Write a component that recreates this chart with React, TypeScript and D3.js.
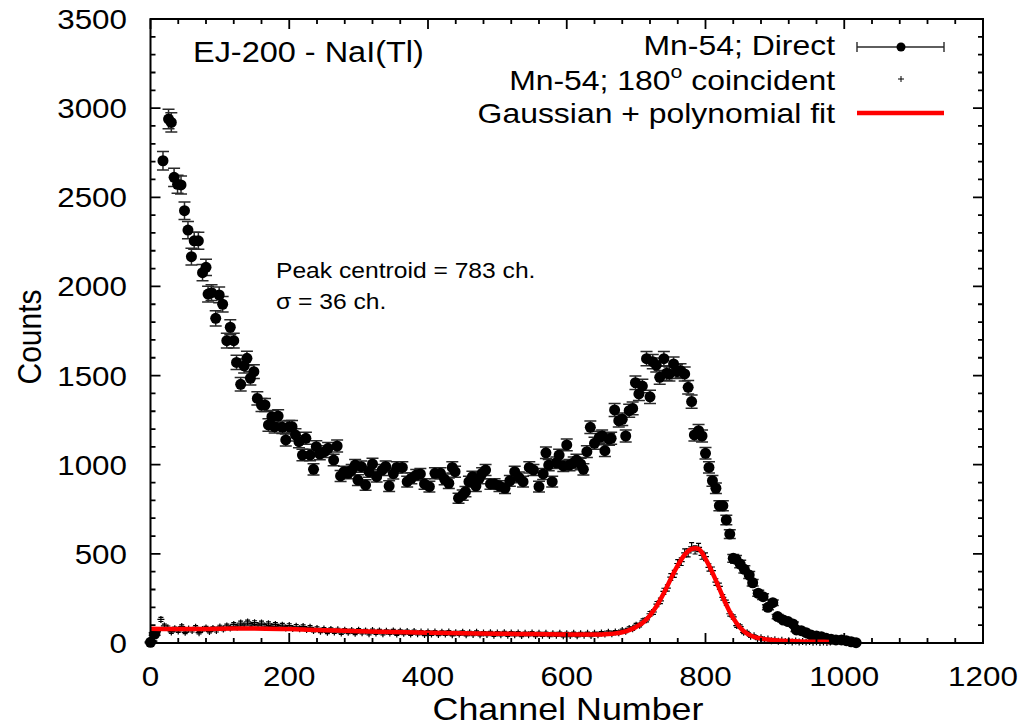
import React from "react";
import * as d3 from "d3";

// ---------- DATA ----------
// Mn-54; Direct  [channel, counts]
const directData: [number, number][] = [
  [0, 4], [6, 50], [18, 2705], [26, 2939], [30, 2920], [34, 2612], [39, 2573], [44, 2569], [49, 2425], [54, 2316],
  [59, 2167], [63, 2256], [69, 2256], [75, 2077], [80, 2107], [83, 1957], [88, 1965], [94, 1821], [99, 1952], [104, 1900],
  [110, 1696], [115, 1771], [120, 1696], [124, 1574], [130, 1451], [135, 1554], [139, 1597], [144, 1485], [149, 1522], [154, 1372],
  [160, 1335], [165, 1335], [170, 1223], [175, 1269], [179, 1213], [184, 1273], [190, 1210], [195, 1139], [200, 1213], [204, 1213],
  [209, 1167], [214, 1129], [219, 1054], [224, 1148], [230, 1054], [235, 974], [239, 1101], [244, 1060], [251, 1073], [256, 1092],
  [264, 1026], [269, 1105], [274, 937], [279, 961], [285, 952], [290, 970], [295, 998], [299, 914], [304, 989], [310, 886],
  [315, 960], [320, 1004], [326, 933], [334, 970], [339, 990], [344, 880], [350, 950], [355, 985], [363, 985], [370, 905],
  [376, 924], [383, 942], [389, 948], [395, 892], [402, 877], [410, 952], [418, 952], [424, 918], [430, 896], [435, 985],
  [439, 961], [444, 812], [450, 830], [454, 849], [459, 905], [464, 933], [469, 880], [474, 924], [478, 952], [483, 970],
  [490, 892], [496, 892], [503, 880], [511, 868], [518, 910], [525, 961], [531, 929], [537, 905], [546, 985], [552, 970],
  [560, 877], [566, 948], [570, 1067], [574, 998], [579, 905], [585, 1011], [589, 1054], [595, 993], [600, 1111], [604, 998],
  [610, 1011], [614, 1026], [620, 1004], [624, 974], [629, 1073], [634, 1210], [640, 1120], [647, 1154], [651, 1161], [655, 1079],
  [661, 1143], [664, 1148], [669, 1307], [675, 1247], [680, 1255], [685, 1161], [690, 1303], [695, 1316], [699, 1460], [704, 1397],
  [709, 1441], [715, 1595], [720, 1381], [724, 1578], [729, 1559], [734, 1490], [740, 1595], [744, 1513], [748, 1509], [754, 1565],
  [759, 1522], [764, 1527], [770, 1509], [775, 1434], [780, 1354], [784, 1167], [790, 1191], [795, 1161], [800, 1064], [805, 985],
  [810, 910], [815, 868], [820, 770], [825, 770], [830, 690], [835, 611], [840, 475], [844, 469], [850, 443], [856, 413],
  [863, 381], [868, 338], [876, 279], [883, 260], [890, 200], [897, 226], [904, 148], [912, 129], [919, 120], [926, 107],
  [931, 73], [938, 69], [945, 58], [952, 45], [960, 39], [967, 35], [974, 26], [981, 21], [988, 17], [996, 17],
  [1003, 13], [1010, 7], [1017, 2],
];

// Mn-54; 180° coincident — counts every 5 channels starting at channel 0
const coincidentStart = 0;
const coincidentStep = 5;
const coincidentCounts: number[] = [
  // 0..20
  0, 10, 64, 132, 96,
  // 25..100
  86, 62, 80, 68, 92, 60, 78, 70, 88, 58, 76, 84, 64, 82, 70, 90,
  // 105..230
  78, 96, 84, 104, 90, 112, 96, 118, 100, 114, 96, 112, 94, 108, 92, 104, 88, 100, 84, 98, 82, 94, 80, 92, 76, 88,
  // 235..400
  70, 82, 66, 78, 60, 76, 62, 74, 56, 72, 60, 70, 54, 72, 58, 68, 52, 70, 56, 68, 52, 66, 56, 68, 50, 66, 54, 64, 50, 64, 52, 62, 48, 62,
  // 405..650
  50, 62, 48, 60, 50, 62, 46, 58, 50, 60, 46, 58, 48, 60, 46, 56, 48, 58, 44, 56, 46, 58, 44, 56, 46, 56, 42, 54, 46, 56,
  42, 54, 44, 54, 42, 52, 44, 54, 40, 52, 42, 54, 40, 52, 44, 54, 42, 54, 46, 56,
  // 655..980
  50, 60, 52, 62, 58, 70, 66, 82, 80, 100, 100, 124, 130, 164, 174, 218, 236, 290, 308, 370,
  388, 446, 456, 506, 505, 540, 522, 536, 492, 484, 424, 406, 342, 318, 256, 226, 164, 146, 98, 92,
  60, 58, 38, 40, 24, 30, 18, 22, 13, 18, 10, 15, 8, 13, 6, 11, 6, 9, 5, 8,
  4, 7, 3, 6, 3, 5,
];

// Gaussian + polynomial fit [channel, counts]
const fitData: [number, number][] = [
  [0, 80], [50, 78], [100, 80], [150, 82], [200, 78], [250, 72], [300, 66], [350, 62], [400, 58], [450, 55],
  [500, 52], [550, 50], [600, 48], [640, 47], [660, 50], [670, 54], [680, 60], [690, 72], [700, 90], [710, 115],
  [720, 155], [730, 210], [740, 280], [750, 360], [760, 435], [770, 495], [780, 528], [785, 532], [790, 528], [800, 472],
  [810, 395], [820, 305], [830, 215], [840, 140], [850, 86], [860, 52], [870, 34], [880, 25], [900, 16], [930, 10],
  [960, 7], [978, 6],
];

const xTickValues = [0, 200, 400, 600, 800, 1000, 1200];
const yTickValues = [0, 500, 1000, 1500, 2000, 2500, 3000, 3500];

// ---------- LAYOUT ----------
const W = 1033;
const H = 728;
const L = 150.5, R = 983, T = 19, B = 643;
const FONT = "'Liberation Sans', Arial, Helvetica, sans-serif";
const SX = 1.12; // horizontal glyph stretch of reference

function Txt(props: {
  x: number; y: number; size: number; anchor?: string; rotate?: boolean; children: React.ReactNode;
}) {
  const { x, y, size, anchor = "start", rotate, children } = props;
  return (
    <text
      transform={`translate(${x},${y}) scale(${SX},1)${rotate ? " rotate(-90)" : ""}`}
      fontSize={size}
      fontFamily={FONT}
      textAnchor={anchor}
      fill="#000"
    >
      {children}
    </text>
  );
}

export default function App() {
  const x = d3.scaleLinear().domain([0, 1200]).range([L, R]);
  const y = d3.scaleLinear().domain([0, 3500]).range([B, T]);

  const xMinor = d3.range(0, 1201, 40).filter((v) => v % 200 !== 0);
  const yMinor = d3.range(0, 3501, 100).filter((v) => v % 500 !== 0);

  const coincident = coincidentCounts.map((c, i) => [coincidentStart + i * coincidentStep, c] as [number, number]);

  const fitLine = d3
    .line<[number, number]>()
    .x((d) => x(d[0]))
    .y((d) => y(d[1]))
    .curve(d3.curveMonotoneX)(fitData) as string;

  const tickPath: string[] = [];
  xTickValues.forEach((v) => {
    tickPath.push(`M${x(v)},${B}v-10M${x(v)},${T}v10`);
  });
  xMinor.forEach((v) => {
    tickPath.push(`M${x(v)},${B}v-5M${x(v)},${T}v5`);
  });
  yTickValues.forEach((v) => {
    tickPath.push(`M${L},${y(v)}h10M${R},${y(v)}h-10`);
  });
  yMinor.forEach((v) => {
    tickPath.push(`M${L},${y(v)}h5M${R},${y(v)}h-5`);
  });

  const capW = 6;

  return (
    <svg width={W} height={H} style={{ position: "absolute", left: 0, top: 0, background: "#fff" }}>
      <rect x={0} y={0} width={W} height={H} fill="#fff" />

      {/* Direct error bars + points */}
      <g>
        {directData.map(([c, v], i) => {
          const e = Math.sqrt(v);
          const px = x(c);
          const y1 = y(v + e);
          const y2 = y(Math.max(0, v - e));
          return (
            <path
              key={"de" + i}
              d={`M${px},${y1}V${y2}M${px - capW},${y1}h${capW * 2}M${px - capW},${y2}h${capW * 2}`}
              stroke="#2a2a2a"
              strokeWidth={1.5}
              fill="none"
            />
          );
        })}
        {directData.map(([c, v], i) => (
          <circle key={"dp" + i} cx={x(c)} cy={y(v)} r={5.5} fill="#000" />
        ))}
      </g>

      {/* Coincident points */}
      <g stroke="#000" strokeWidth={1.2} fill="none">
        {coincident.map(([c, v], i) => {
          const e = Math.sqrt(v);
          const px = x(c);
          const py = y(v);
          const t = y(v + e);
          const b = y(Math.max(0, v - e));
          return (
            <path
              key={"c" + i}
              d={`M${px - 3.5},${py}h7M${px},${py - 3.5}v7M${px},${t}V${b}M${px - 2.5},${t}h5M${px - 2.5},${b}h5`}
            />
          );
        })}
      </g>

      {/* Fit line */}
      <path d={fitLine} stroke="#ff0000" strokeWidth={4.5} fill="none" strokeLinejoin="round" />

      {/* Frame and ticks */}
      <path d={tickPath.join("")} stroke="#000" strokeWidth={1.8} fill="none" />
      <rect x={L} y={T} width={R - L} height={B - T} fill="none" stroke="#000" strokeWidth={2} />

      {/* Tick labels */}
      {xTickValues.map((v) => (
        <Txt key={"xl" + v} x={x(v)} y={686} size={28} anchor="middle">
          {v}
        </Txt>
      ))}
      {yTickValues.map((v) => (
        <Txt key={"yl" + v} x={127} y={y(v) + 10} size={28} anchor="end">
          {v}
        </Txt>
      ))}

      {/* Axis titles */}
      <Txt x={568} y={720} size={32} anchor="middle">
        Channel Number
      </Txt>
      <Txt x={41} y={337} size={30} anchor="middle" rotate>
        Counts
      </Txt>

      {/* Title inside */}
      <Txt x={193} y={62} size={29}>
        EJ-200 - NaI(Tl)
      </Txt>

      {/* Annotation */}
      <Txt x={276} y={278} size={22}>
        Peak centroid = 783 ch.
      </Txt>
      <Txt x={276} y={309} size={22}>
        σ = 36 ch.
      </Txt>

      {/* Legend */}
      <Txt x={835} y={55} size={28.5} anchor="end">
        Mn-54; Direct
      </Txt>
      <path d={`M857,47H944M857,42v10M944,42v10`} stroke="#2a2a2a" strokeWidth={1.4} fill="none" />
      <circle cx={901} cy={47} r={4.5} fill="#000" />

      <Txt x={835} y={90} size={28.5} anchor="end">
        <tspan>Mn-54; 180</tspan>
        <tspan fontSize={19} dy={-12}>o</tspan>
        <tspan dy={12}> coincident</tspan>
      </Txt>
      <path d={`M898,79h6M901,76v6`} stroke="#000" strokeWidth={1} fill="none" />

      <Txt x={835} y={123} size={28.5} anchor="end">
        Gaussian + polynomial fit
      </Txt>
      <path d={`M857,113H944`} stroke="#ff0000" strokeWidth={4.5} fill="none" />
    </svg>
  );
}
